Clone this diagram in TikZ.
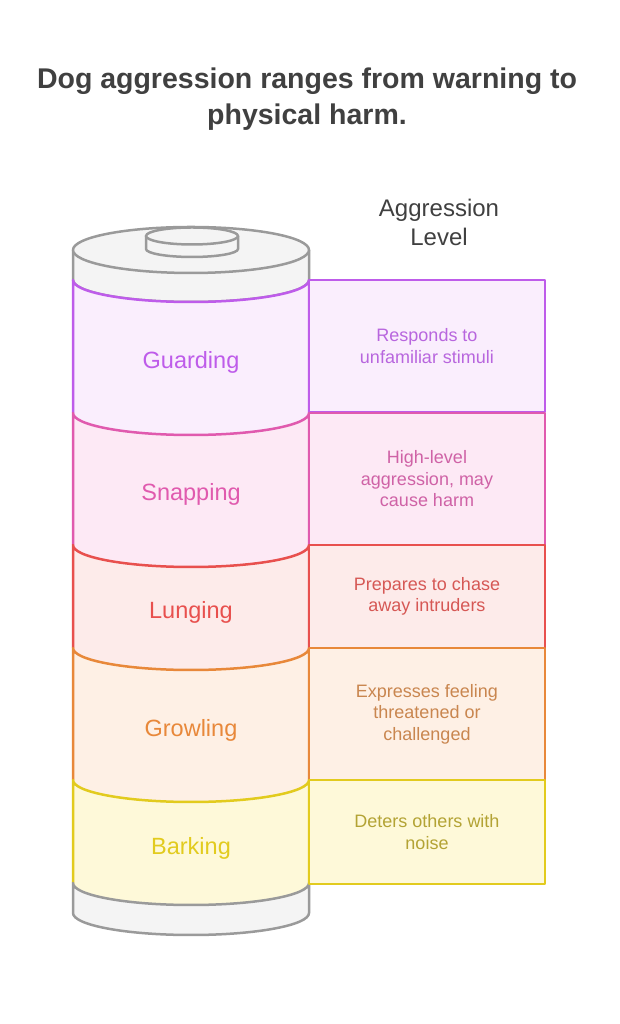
\documentclass[tikz,border=0pt]{standalone}
\usepackage{fontspec}
\setmainfont{Liberation Sans}
\usepackage{xcolor}
\usetikzlibrary{positioning}

\definecolor{grayline}{HTML}{9A9A9A}
\definecolor{grayfill}{HTML}{F4F4F4}
\definecolor{guardline}{HTML}{BE5CEA}
\definecolor{guardfill}{HTML}{FAEEFD}
\definecolor{guardtext}{HTML}{B866DE}
\definecolor{snapline}{HTML}{E05AAE}
\definecolor{snapfill}{HTML}{FDE9F5}
\definecolor{snaptext}{HTML}{CF62A6}
\definecolor{lungeline}{HTML}{E8504E}
\definecolor{lungefill}{HTML}{FDEBEA}
\definecolor{lungetext}{HTML}{D65855}
\definecolor{growlline}{HTML}{E8883A}
\definecolor{growlfill}{HTML}{FEF0E5}
\definecolor{growltext}{HTML}{C9864F}
\definecolor{barkline}{HTML}{E2CB1E}
\definecolor{barkfill}{HTML}{FEF9D9}
\definecolor{barktext}{HTML}{B3A334}
\definecolor{titletext}{HTML}{404040}

\tikzset{
    levelbox/.style={rectangle, draw, line width=2.5pt, minimum width=236pt, inner sep=0pt, align=center, font=\fontsize{18}{21.5}\selectfont},
    bandlabel/.style={font=\fontsize{23.5}{28}\selectfont},
}

\begin{document}
\begin{tikzpicture}[x=1pt, y=1pt, line join=round]
    \def\rx{118}
    \def\ry{22}
    \useasboundingbox (0,0) rectangle (619,1024);

    % title and heading
    \node(title) [font=\bfseries\fontsize{28.5}{36}\selectfont, text=titletext, align=center] at (307,925) {Dog aggression ranges from warning to\\physical harm.};
    \node(heading) [font=\fontsize{24}{29}\selectfont, text=titletext, align=center] at (439,802) {Aggression\\Level};

    % top cap
    \filldraw[grayline, fill=grayfill, line width=2.5pt] (73,774) -- (73,744) arc[start angle=180, end angle=360, x radius=\rx, y radius=\ry] -- (309,774);
    \filldraw[grayline, fill=grayfill, line width=2.5pt] (191,774) ellipse[x radius=\rx, y radius=23];
    \filldraw[grayline, fill=grayfill, line width=2.5pt] (146,788) -- (146,775) arc[start angle=180, end angle=360, x radius=46, y radius=8] -- (238,788);
    \filldraw[grayline, fill=grayfill, line width=2.5pt] (192,788) ellipse[x radius=46, y radius=8.5];

    % bands, top to bottom: top, bottom, colour
    \foreach \t/\b/\c in {744/611/guard, 611/479/snap, 479/376/lunge, 376/244/growl, 244/141/bark}{
        \fill[\c fill] (73,\t) arc[start angle=180, end angle=360, x radius=\rx, y radius=\ry] -- (309,\b) arc[start angle=0, end angle=-180, x radius=\rx, y radius=\ry] -- cycle;
        \draw[\c line, line width=2.5pt] (73,\b) -- (73,\t) arc[start angle=180, end angle=360, x radius=\rx, y radius=\ry] -- (309,\b);
    }

    % bottom cap
    \filldraw[grayline, fill=grayfill, line width=2.5pt] (73,141) arc[start angle=180, end angle=360, x radius=\rx, y radius=\ry] -- (309,111) arc[start angle=0, end angle=-180, x radius=\rx, y radius=\ry] -- cycle;

    % band labels
    \node(guard) [bandlabel, text=guardline] at (191,662) {Guarding};
    \node(snap) [bandlabel, text=snapline] at (191,530) {Snapping};
    \node(lunge) [bandlabel, text=lungeline] at (191,412) {Lunging};
    \node(growl) [bandlabel, text=growlline] at (191,294) {Growling};
    \node(bark) [bandlabel, text=barkline] at (191,176) {Barking};

    % level boxes
    \node(guardbox) [levelbox, draw=guardline, fill=guardfill, text=guardtext, minimum height=132pt] at (427,678) {Responds to\\unfamiliar stimuli};
    \node(snapbox) [levelbox, draw=snapline, fill=snapfill, text=snaptext, minimum height=132pt] at (427,545) {High-level\\aggression, may\\cause harm};
    \node(lungebox) [levelbox, draw=lungeline, fill=lungefill, text=lungetext, minimum height=103pt] at (427,427.5) {Prepares to chase\\away intruders};
    \node(growlbox) [levelbox, draw=growlline, fill=growlfill, text=growltext, minimum height=132pt] at (427,310) {Expresses feeling\\threatened or\\challenged};
    \node(barkbox) [levelbox, draw=barkline, fill=barkfill, text=barktext, minimum height=104pt] at (427,192) {Deters others with\\noise};

\end{tikzpicture}
\end{document}
